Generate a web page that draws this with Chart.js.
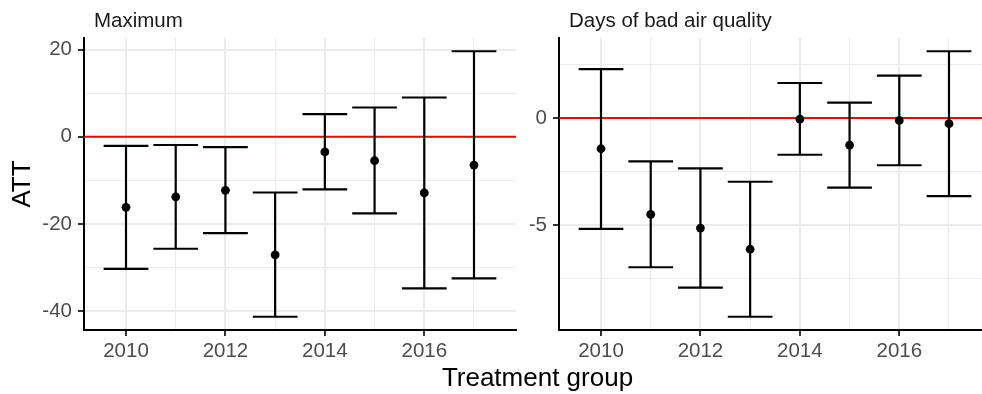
<!DOCTYPE html>
<html>
<head>
<meta charset="utf-8">
<script src="https://cdn.jsdelivr.net/npm/chart.js@4/dist/chart.umd.min.js"></script>
<style>
  html, body { margin: 0; padding: 0; background: #fff; overflow: hidden; width: 982px; height: 394px; }
  #wrap { position: relative; width: 982px; height: 394px; overflow: hidden; }
  #cMax { position: absolute; left: 0; top: 0; }
  #cBad { position: absolute; left: 530px; top: 0; }
  #xtitle { position: absolute; left: 84px; width: 907px; top: 364px; text-align: center;
            font: 26px 'Liberation Sans', Arial, sans-serif; line-height: 26px; color: #000; }
</style>
</head>
<body>
<div id="wrap">
  <canvas id="cMax" width="530" height="394"></canvas>
  <canvas id="cBad" width="470" height="394"></canvas>
  <div id="xtitle">Treatment group</div>
</div>
<script>
// Treatment cohorts (x axis)
const years = [2010, 2011, 2012, 2013, 2014, 2015, 2016, 2017];
const xLabels = ['2010', '', '2012', '', '2014', '', '2016', ''];

// Panel 1: Maximum — ATT estimates with confidence bounds
const maxEst = [-16.2, -13.8, -12.3, -27.1, -3.5, -5.5, -12.9, -6.5];
const maxLo  = [-30.3, -25.7, -22.1, -41.3, -12.1, -17.6, -34.8, -32.5];
const maxHi  = [ -2.1,  -1.9,  -2.4, -12.8,   5.2,   6.7,   9.0,  19.6];
const maxYTicks  = [-40, -30, -20, -10, 0, 10, 20];
const maxYLabels = ['-40', '', '-20', '', '0', '', '20'];

// Panel 2: Days of bad air quality — ATT estimates with confidence bounds
const badEst = [-1.43, -4.49, -5.13, -6.12, -0.05, -1.26, -0.11, -0.26];
const badLo  = [-5.17, -6.96, -7.91, -9.27, -1.71, -3.24, -2.20, -3.64];
const badHi  = [ 2.29, -2.02, -2.35, -2.97,  1.64,  0.72,  1.98,  3.12];
const badYTicks  = [-7.5, -5, -2.5, 0, 2.5];
const badYLabels = ['', '-5', '', '0', ''];

const refValue = 0;       // horizontal reference line
const capHalf = 0.45;     // half width of error-bar caps, in years
const FONT = "'Liberation Sans', Arial, sans-serif";

// Short text label above each panel, anchored to the plot area
const panelTitle = {
  id: 'panelTitle',
  afterDraw(chart, args, opts) {
    const ctx = chart.ctx;
    ctx.save();
    ctx.font = `${opts.size}px ${FONT}`;
    ctx.fillStyle = '#1A1A1A';
    ctx.textBaseline = 'alphabetic';
    ctx.textAlign = 'left';
    ctx.fillText(opts.text, chart.chartArea.left + opts.inset, opts.baseline);
    ctx.restore();
  }
};

// Red horizontal line at the reference value, beneath the estimates
const refLine = {
  id: 'refLine',
  beforeDatasetsDraw(chart, args, opts) {
    const { left, right } = chart.chartArea;
    const y = chart.scales.y.getPixelForValue(opts.value);
    const ctx = chart.ctx;
    ctx.save();
    ctx.strokeStyle = opts.color;
    ctx.lineWidth = opts.width;
    ctx.beginPath();
    ctx.moveTo(left, y);
    ctx.lineTo(right, y);
    ctx.stroke();
    ctx.restore();
  }
};

function makePanel(id, title, est, lo, hi, yTicks, yLabels, layout) {
  const xmin0 = Math.min(...years) - capHalf, xmax0 = Math.max(...years) + capHalf;
  const xpad = 0.05 * (xmax0 - xmin0);
  const ymin0 = Math.min(...lo), ymax0 = Math.max(...hi);
  const ypad = 0.05 * (ymax0 - ymin0);

  const points = years.map((x, i) => ({ x, y: est[i] }));
  const caps = years.map((x, i) => ({ x, y: lo[i] })).concat(years.map((x, i) => ({ x, y: hi[i] })));
  const whiskers = [];
  years.forEach((x, i) => {
    whiskers.push({ x, y: lo[i] }, { x, y: hi[i] }, { x, y: null });
  });

  const capRadius = (ctx) => {
    const s = ctx.chart.scales.x;
    return Math.abs(s.getPixelForValue(years[0] + capHalf) - s.getPixelForValue(years[0]));
  };

  const gridFor = (labels) => ({
    color: '#EBEBEB',
    lineWidth: (c) => (labels[c.index] ? 2 : 1),
    tickColor: (c) => (labels[c.index] ? '#333333' : 'rgba(0,0,0,0)'),
    tickLength: 6,
    tickWidth: 2
  });

  return new Chart(document.getElementById(id), {
    type: 'scatter',
    data: {
      datasets: [
        { type: 'scatter', label: 'ATT', data: points,
          pointRadius: 4.4, pointBackgroundColor: '#000', pointBorderWidth: 0,
          backgroundColor: '#000', borderColor: '#000' },
        { type: 'scatter', label: 'CI caps', data: caps,
          pointStyle: 'line', pointRadius: capRadius,
          pointBorderColor: '#000', borderColor: '#000', pointBorderWidth: 2.2 },
        { type: 'line', label: 'CI', data: whiskers,
          borderColor: '#000', borderWidth: 2.2, pointRadius: 0,
          spanGaps: false, fill: false, showLine: true }
      ]
    },
    options: {
      responsive: false,
      animation: false,
      events: [],
      layout: { padding: { top: 38, right: layout.rightPad, left: 0, bottom: 0 } },
      plugins: {
        legend: { display: false },
        tooltip: { enabled: false },
        panelTitle: { text: title, size: 20.5, inset: 10, baseline: 27 },
        refLine: { value: refValue, color: '#FF0000', width: 2 }
      },
      scales: {
        x: {
          type: 'linear',
          min: xmin0 - xpad,
          max: xmax0 + xpad,
          afterBuildTicks: (s) => { s.ticks = years.map((v) => ({ value: v })); },
          afterFit: (s) => { s.height = 64; },
          ticks: {
            callback: (v, i) => xLabels[i],
            autoSkip: false, maxRotation: 0, minRotation: 0,
            padding: 3, color: '#4D4D4D', font: { family: FONT, size: 20.5 }
          },
          grid: gridFor(xLabels),
          border: { display: true, color: '#000', width: 2 }
        },
        y: {
          type: 'linear',
          min: ymin0 - ypad,
          max: ymax0 + ypad,
          afterBuildTicks: (s) => { s.ticks = yTicks.map((v) => ({ value: v })); },
          afterFit: (s) => { s.width = layout.yAxisWidth; },
          ticks: {
            callback: (v, i) => yLabels[i],
            autoSkip: false, padding: 6, color: '#4D4D4D', font: { family: FONT, size: 20.5 }
          },
          grid: gridFor(yLabels),
          border: { display: true, color: '#000', width: 2 },
          title: {
            display: layout.yTitle, text: 'ATT', color: '#000',
            font: { family: FONT, size: 26 }, padding: { top: 7, bottom: 0 }
          }
        }
      }
    },
    plugins: [panelTitle, refLine]
  });
}

makePanel('cMax', 'Maximum', maxEst, maxLo, maxHi, maxYTicks, maxYLabels,
          { yAxisWidth: 84, rightPad: 14, yTitle: true });
makePanel('cBad', 'Days of bad air quality', badEst, badLo, badHi, badYTicks, badYLabels,
          { yAxisWidth: 29, rightPad: 9, yTitle: false });
</script>
</body>
</html>
